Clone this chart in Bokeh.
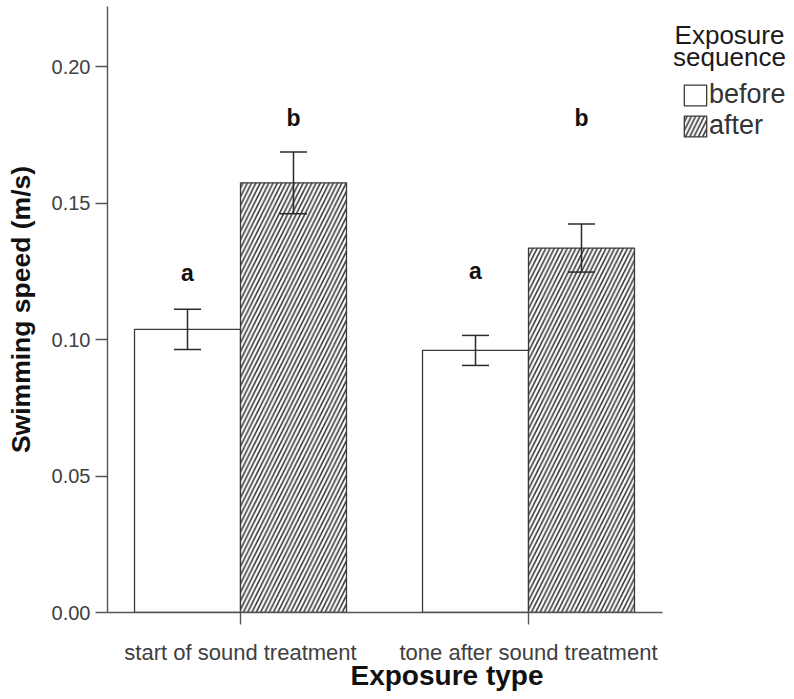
from bokeh.plotting import figure
from bokeh.models import (Range1d, FixedTicker, NumeralTickFormatter, Legend, LegendItem,
                          Label)
from bokeh.core.properties import value
from bokeh.embed import file_html
from bokeh.resources import INLINE

# ---- data ----
groups = ["start of sound treatment", "tone after sound treatment"]
sequences = ["before", "after"]
before_mean = [0.1037, 0.0960]
before_err = [0.0074, 0.0055]
after_mean = [0.1574, 0.1335]
after_err = [0.0113, 0.0088]
before_letters = ["a", "a"]
after_letters = ["b", "b"]
before_letter_y = [0.1245, 0.1250]
after_letter_y = [0.1810, 0.1810]
y_ticks = [0.00, 0.05, 0.10, 0.15, 0.20]

FONT = "Liberation Sans"
LEFT, TOP = 107, 6
FW, FH = 679, 606
PX_PER_X = 288.0
PX_PER_Y = 2730.0
X0 = 1 - (240 - LEFT) / PX_PER_X
Y_TOP = FH / PX_PER_Y
BOTTOM_PX = TOP + FH  # screen y of value 0

p = figure(frame_width=FW, frame_height=FH, output_backend="svg", toolbar_location=None,
           x_range=Range1d(X0, X0 + FW / PX_PER_X), y_range=Range1d(0, Y_TOP),
           min_border_left=LEFT, min_border_right=0, min_border_top=TOP,
           min_border_bottom=0)
p.outline_line_color = None
p.grid.visible = False
p.background_fill_color = "white"
p.border_fill_color = "white"

xs = [i + 1 for i in range(len(groups))]
bw = 0.368
off = bw / 2
xb = [x - off for x in xs]
xa = [x + off for x in xs]

bar_line = "#3a3a3a"
r_before = p.vbar(x=xb, top=before_mean, width=bw, bottom=0, fill_color="white",
                  line_color=bar_line, line_width=1.3)
r_after = p.vbar(x=xa, top=after_mean, width=bw, bottom=0, fill_color="white",
                 line_color=bar_line, line_width=1.3, hatch_pattern="/",
                 hatch_color="#3a3a3a", hatch_scale=8.6, hatch_weight=1.6)

cap = 13.5 / PX_PER_X
for xx, m, e in ((xb, before_mean, before_err), (xa, after_mean, after_err)):
    lo = [mm - ee for mm, ee in zip(m, e)]
    hi = [mm + ee for mm, ee in zip(m, e)]
    p.segment(x0=xx, x1=xx, y0=lo, y1=hi, line_color="#2a2a2a", line_width=1.5)
    p.segment(x0=[x - cap for x in xx], x1=[x + cap for x in xx], y0=lo, y1=lo,
              line_color="#2a2a2a", line_width=1.5)
    p.segment(x0=[x - cap for x in xx], x1=[x + cap for x in xx], y0=hi, y1=hi,
              line_color="#2a2a2a", line_width=1.5)

p.text(x=xb, y=before_letter_y, text=before_letters, text_font=value(FONT),
       text_font_style="bold", text_font_size="23px", text_align="center",
       text_baseline="middle", text_color="#111111")
p.text(x=xa, y=after_letter_y, text=after_letters, text_font=value(FONT),
       text_font_style="bold", text_font_size="23px", text_align="center",
       text_baseline="middle", text_color="#111111")

# axes
ax = p.xaxis[0]
ax.ticker = FixedTicker(ticks=xs)
ax.major_label_overrides = {x: g for x, g in zip(xs, groups)}
ax.bounds = (X0, 2 + (662 - 528) / PX_PER_X)
ax.axis_label = "Exposure type"
ay = p.yaxis[0]
ay.ticker = FixedTicker(ticks=y_ticks)
ay.formatter = NumeralTickFormatter(format="0.00")
ay.axis_label = "Swimming speed (m/s)"
for a in (ax, ay):
    a.axis_line_color = "#555555"
    a.axis_line_width = 1.4
    a.major_tick_line_color = "#555555"
    a.major_tick_line_width = 1.4
    a.major_tick_in = 0
    a.minor_tick_line_color = None
    a.major_label_text_font = FONT
    a.major_label_text_color = "#404040"
    a.axis_label_text_font = FONT
    a.axis_label_text_font_style = "bold"
    a.axis_label_text_color = "#111111"
ax.major_tick_out = 12
ax.major_label_text_font_size = "22px"
ax.major_label_standoff = 15
ax.axis_label_text_font_size = "28px"
ax.axis_label_standoff = -8
ay.major_tick_out = 12
ay.major_label_text_font_size = "20px"
ay.major_label_standoff = 5
ay.axis_label_text_font_size = "26.5px"
ay.axis_label_standoff = 13

# legend
def sx(px):
    return X0 + (px - LEFT) / PX_PER_X

def sy(py):
    return (BOTTOM_PX - py) / PX_PER_Y

for txt, mid in (("Exposure", 34), ("sequence", 56)):
    p.add_layout(Label(x=sx(729), y=sy(mid), text=txt, text_font=FONT,
                       text_font_size="26px", text_align="center",
                       text_baseline="middle", text_color="#1a1a1a"))

leg = Legend(items=[LegendItem(label=sequences[0], renderers=[r_before]),
                    LegendItem(label=sequences[1], renderers=[r_after])],
             location=(681 - LEFT, BOTTOM_PX - 141), orientation="vertical",
             glyph_width=28, glyph_height=26, label_height=21, label_width=20,
             label_standoff=0, spacing=-4, padding=0, margin=0,
             border_line_color=None, background_fill_alpha=0,
             label_text_font=FONT, label_text_font_size="27px",
             label_text_color="#333333")
p.add_layout(leg)

open("out.html", "w").write(file_html(p, INLINE))
